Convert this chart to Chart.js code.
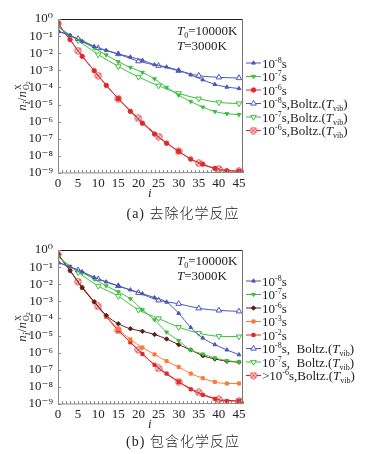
<!DOCTYPE html>
<html><head><meta charset="utf-8">
<script src="https://cdn.jsdelivr.net/npm/chart.js@4.4.0/dist/chart.umd.min.js"></script>
<style>
html,body{margin:0;padding:0;background:#fff;}
body{width:366px;height:454px;position:relative;overflow:hidden;font-family:"Liberation Serif","Tinos","DejaVu Serif",serif;color:#222;}
.cv{position:absolute;left:0;width:366px;height:200px;}
#ca{top:0px} #cb{top:231px}
.t{position:absolute;white-space:nowrap;font-size:13px;line-height:13px;}
.t sup{font-size:8px;vertical-align:5px;line-height:0;}
.t sub{font-size:8px;vertical-align:-3px;line-height:0;}
.cap{position:absolute;white-space:nowrap;font-size:14px;line-height:14px;letter-spacing:1px;transform:translateX(-50%);}
.cap .zh{font-family:"Noto Sans CJK SC",sans-serif;font-weight:300;}
.yt{position:absolute;white-space:nowrap;font-size:13px;line-height:13px;transform:translate(-50%,-50%) rotate(-90deg);}
.st{display:inline-flex;flex-direction:column;vertical-align:middle;font-size:8px;line-height:8px;font-style:normal;margin-left:1px;}
</style>
</head><body>
<canvas id="ca" class="cv" width="366" height="200"></canvas>
<canvas id="cb" class="cv" width="366" height="200"></canvas>

<!-- chart (a) texts -->
<div class="t" style="left:177px;top:24px"><i>T</i><sub>0</sub>=10000K</div>
<div class="t" style="left:177px;top:38.5px"><i>T</i>=3000K</div>
<div class="yt" style="left:24px;top:96px"><i>n</i><sub><i>i</i></sub>/<i>n</i><span class="st"><span>X</span><span>O<sub style="font-size:6px;vertical-align:-1px">2</sub></span></span></div>
<div class="t" style="left:148px;top:186px"><i>i</i></div>
<div class="cap" style="left:183px;top:205px">(a) <span class="zh">去除化学反应</span></div>
<div class="t" style="left:262px;top:56.5px">10<sup>-8</sup>s</div>
<div class="t" style="left:262px;top:70px">10<sup>-7</sup>s</div>
<div class="t" style="left:262px;top:83.5px">10<sup>-6</sup>s</div>
<div class="t" style="left:262px;top:97px">10<sup>-8</sup>s,Boltz.(<i>T</i><sub>vib</sub>)</div>
<div class="t" style="left:262px;top:110.5px">10<sup>-7</sup>s,Boltz.(<i>T</i><sub>vib</sub>)</div>
<div class="t" style="left:262px;top:124px">10<sup>-6</sup>s,Boltz.(<i>T</i><sub>vib</sub>)</div>

<!-- chart (b) texts -->
<div class="t" style="left:177px;top:254px"><i>T</i><sub>0</sub>=10000K</div>
<div class="t" style="left:177px;top:268.5px"><i>T</i>=3000K</div>
<div class="yt" style="left:24px;top:327px"><i>n</i><sub><i>i</i></sub>/<i>n</i><span class="st"><span>X</span><span>O<sub style="font-size:6px;vertical-align:-1px">2</sub></span></span></div>
<div class="t" style="left:148px;top:417px"><i>i</i></div>
<div class="cap" style="left:183px;top:433px">(b) <span class="zh">包含化学反应</span></div>
<div class="t" style="left:262px;top:274.5px">10<sup>-8</sup>s</div>
<div class="t" style="left:262px;top:288px">10<sup>-7</sup>s</div>
<div class="t" style="left:262px;top:301.5px">10<sup>-6</sup>s</div>
<div class="t" style="left:262px;top:315px">10<sup>-3</sup>s</div>
<div class="t" style="left:262px;top:328.5px">10<sup>-2</sup>s</div>
<div class="t" style="left:262px;top:342px">10<sup>-8</sup>s,&nbsp; Boltz.(<i>T</i><sub>vib</sub>)</div>
<div class="t" style="left:262px;top:355.5px">10<sup>-7</sup>s,&nbsp; Boltz.(<i>T</i><sub>vib</sub>)</div>
<div class="t" style="left:262px;top:369px">&gt;10<sup>-6</sup>s,Boltz.(<i>T</i><sub>vib</sub>)</div>

<script>
// ---------- data ----------
const iFilled = [0,3,6,9,12,15,18,21,24,27,30,33,36,39,42,45];
const iOpen   = [0,5,10,15,20,25,30,35,40,45];
const xTickLabels = ['0','5','10','15','20','25','30','35','40','45'];
const yTickExps = [0,-1,-2,-3,-4,-5,-6,-7,-8,-9];

// chart (a): without chemical reactions
const a_e8  = [1.95e-1,1.12e-1,5.0e-2,2.5e-2,1.48e-2,9.1e-3,6.0e-3,3.9e-3,2.14e-3,1.58e-3,1.0e-3,5.4e-4,2.8e-4,1.5e-4,1.05e-4,8.7e-5];
const a_e7  = [3.55e-1,1.07e-1,4.7e-2,2.0e-2,7.9e-3,3.16e-3,1.48e-3,7.6e-4,3.16e-4,1.0e-4,3.55e-5,1.51e-5,7.1e-6,3.9e-6,2.9e-6,2.6e-6];
const a_e6  = [5.5e-1,6.3e-2,6.6e-3,9.5e-4,1.32e-4,2.2e-5,4.0e-6,8.1e-7,1.9e-7,5.5e-8,1.86e-8,6.5e-9,3.3e-9,1.86e-9,1.35e-9,1.26e-9];
const a_b8  = [1.95e-1,6.9e-2,2.0e-2,8.9e-3,3.4e-3,1.86e-3,9.5e-4,4.9e-4,3.9e-4,3.55e-4];
const a_b7  = [3.55e-1,5.6e-2,8.3e-3,1.7e-3,4.1e-4,1.26e-4,4.5e-5,2.2e-5,1.32e-5,1.15e-5];
const a_b6  = [5.5e-1,1.41e-2,4.9e-4,2.2e-5,1.58e-6,1.35e-7,1.86e-8,3.7e-9,1.7e-9,1.26e-9];

// chart (b): with chemical reactions
const b_e8  = [1.9e-1,1.05e-1,5.4e-2,2.5e-2,1.38e-2,7.9e-3,4.7e-3,2.8e-3,1.66e-3,9.1e-4,2.0e-4,2.95e-5,7.2e-6,2.95e-6,1.45e-6,7.6e-7];
const b_e7  = [4.1e-1,1.07e-1,4.7e-2,2.0e-2,7.9e-3,3.55e-3,1.41e-3,3.16e-4,8.3e-5,1.58e-5,5.0e-6,1.45e-6,8.3e-7,4.9e-7,3.4e-7,2.95e-7];
const b_e6  = [5.5e-1,6.3e-2,6.3e-3,9.5e-4,1.51e-4,4.9e-5,2.5e-5,1.78e-5,1.15e-5,6.3e-6,2.95e-6,1.45e-6,6.6e-7,4.3e-7,3.16e-7,2.8e-7];
const b_e3  = [5.5e-1,6.3e-2,6.3e-3,8.9e-4,1.32e-4,2.4e-5,5.9e-6,2.0e-6,7.9e-7,3.2e-7,1.45e-7,6.0e-8,3.2e-8,1.95e-8,1.58e-8,1.58e-8];
const b_e2  = [5.5e-1,6.3e-2,6.3e-3,8.9e-4,1.26e-4,2.0e-5,4.0e-6,8.3e-7,1.95e-7,6.0e-8,2.0e-8,7.2e-9,3.4e-9,2.0e-9,1.51e-9,1.51e-9];
const b_b8  = [1.9e-1,6.6e-2,2.0e-2,7.9e-3,3.16e-3,1.15e-3,7.2e-4,3.9e-4,2.95e-4,2.6e-4];
const b_b7  = [4.1e-1,5.0e-2,7.9e-3,2.0e-3,3.16e-4,1.0e-4,3.1e-5,1.38e-5,9.1e-6,8.7e-6];
const b_b6  = [5.5e-1,1.41e-2,5.0e-4,2.0e-5,1.45e-6,1.2e-7,2.0e-8,4.7e-9,1.86e-9,1.51e-9];

// ---------- styles ----------
const BLUE='#4a58b8', GREEN='#3cbf3c', RED='#e02828', BROWN='#5a1e1e', ORANGE='#ff7a3a';
const FONT='"Liberation Serif", "Tinos", "DejaVu Serif", serif';

function crossCircle(color){
  const c=document.createElement('canvas'); c.width=8; c.height=8;
  const g=c.getContext('2d'); g.strokeStyle=color; g.lineWidth=0.9; g.fillStyle='#fff';
  g.beginPath(); g.arc(4,4,3.2,0,Math.PI*2); g.fill(); g.stroke();
  g.beginPath(); g.moveTo(2,2); g.lineTo(6,6); g.moveTo(6,2); g.lineTo(2,6); g.stroke();
  return c;
}

function mk(label, xs, ys, color, style, open, rot){
  return {
    label, data: xs.map((x,k)=>({x, y: ys[k]})),
    borderColor: color, backgroundColor: color,
    pointBackgroundColor: open ? '#fff' : color, pointBorderColor: color,
    pointStyle: style, rotation: rot||0,
    pointRadius: open ? 3.2 : 2.2, pointBorderWidth: 1, borderWidth: 1,
    cubicInterpolationMode: 'monotone', fill: false
  };
}

function axesPlugin(legendTop){
  return {
    id:'axesDeco',
    afterDraw(chart){
      const {ctx, chartArea:ca, scales:{x,y}} = chart;
      ctx.save();
      ctx.lineWidth=1;
      ctx.strokeStyle='#222'; ctx.beginPath(); ctx.moveTo(ca.left, ca.top+0.5); ctx.lineTo(ca.right, ca.top+0.5); ctx.stroke();
      ctx.strokeStyle='#777'; ctx.beginPath(); ctx.moveTo(ca.right-0.5, ca.top); ctx.lineTo(ca.right-0.5, ca.bottom); ctx.stroke();
      ctx.strokeStyle='#8a8a8a';
      ctx.beginPath(); ctx.moveTo(ca.left+0.5, ca.top); ctx.lineTo(ca.left+0.5, ca.bottom); ctx.lineTo(ca.right, ca.bottom-0.5); ctx.stroke();
      ctx.beginPath();
      x.ticks.forEach(t=>{ const px=Math.round(x.getPixelForValue(t.value))+0.5; ctx.moveTo(px, ca.bottom); ctx.lineTo(px, ca.bottom-3); });
      y.ticks.forEach(t=>{ const py=Math.round(y.getPixelForValue(t.value))+0.5; ctx.moveTo(ca.left, py); ctx.lineTo(ca.left+3, py); });
      ctx.stroke();
      chart.data.datasets.forEach((ds,k)=>{
        const yy = legendTop + k*13.5;
        ctx.strokeStyle = ds.borderColor; ctx.lineWidth=1;
        ctx.beginPath(); ctx.moveTo(246, yy); ctx.lineTo(261, yy); ctx.stroke();
        ctx.fillStyle = ds.pointBackgroundColor; ctx.strokeStyle = ds.pointBorderColor;
        Chart.helpers.drawPoint(ctx, {pointStyle: ds.pointStyle, radius: ds.pointRadius, rotation: ds.rotation, borderWidth: 1}, 253.5, yy);
      });
      ctx.restore();
    }
  };
}

const SUP={'-':'⁻','0':'⁰','1':'¹','2':'²','3':'³','4':'⁴','5':'⁵','6':'⁶','7':'⁷','8':'⁸','9':'⁹'};
function supStr(n){ return String(n).split('').map(c=>SUP[c]).join(''); }

function makeChart(id, datasets, legendTop){
  return new Chart(document.getElementById(id), {
    type:'line',
    data:{datasets},
    options:{
      responsive:false, animation:false, devicePixelRatio:1,
      layout:{padding:{left:0,right:123,top:19,bottom:7}},
      plugins:{legend:{display:false}, tooltip:{enabled:false}},
      scales:{
        x:{type:'linear', min:0, max:46,
           grid:{display:false, drawTicks:false}, border:{display:false},
           afterFit:s=>{s.height=20;},
           ticks:{stepSize:1, autoSkip:false, maxRotation:0, padding:3, color:'#222',
             font:{family:FONT, size:13},
             callback:v=>{ const k=xTickLabels.indexOf(String(v)); return k>=0 ? xTickLabels[k] : ''; }}},
        y:{type:'logarithmic', min:1e-9, max:1,
           grid:{display:false, drawTicks:false}, border:{display:false},
           afterFit:s=>{s.width=58;},
           afterBuildTicks:s=>{ s.ticks = yTickExps.map(e=>({value: Math.pow(10,e)})); },
           ticks:{autoSkip:false, padding:5, color:'#222', font:{family:FONT, size:13},
             callback:v=>{ const e=Math.round(Math.log10(v)); return yTickExps.includes(e) ? '10'+supStr(e) : ''; }}}
      }
    },
    plugins:[axesPlugin(legendTop)]
  });
}

const redX = crossCircle(RED);

makeChart('ca', [
  mk('10-8s', iFilled, a_e8, BLUE, 'triangle', false),
  mk('10-7s', iFilled, a_e7, GREEN, 'triangle', false, 180),
  mk('10-6s', iFilled, a_e6, RED, 'circle', false),
  mk('10-8s,Boltz.(Tvib)', iOpen, a_b8, BLUE, 'triangle', true),
  mk('10-7s,Boltz.(Tvib)', iOpen, a_b7, GREEN, 'triangle', true, 180),
  mk('10-6s,Boltz.(Tvib)', iOpen, a_b6, RED, redX, true)
], 63);

makeChart('cb', [
  mk('10-8s', iFilled, b_e8, BLUE, 'triangle', false),
  mk('10-7s', iFilled, b_e7, GREEN, 'triangle', false, 180),
  mk('10-6s', iFilled, b_e6, BROWN, 'rectRot', false),
  mk('10-3s', iFilled, b_e3, ORANGE, 'rect', false),
  mk('10-2s', iFilled, b_e2, RED, 'rect', false),
  mk('10-8s, Boltz.(Tvib)', iOpen, b_b8, BLUE, 'triangle', true),
  mk('10-7s, Boltz.(Tvib)', iOpen, b_b7, GREEN, 'triangle', true, 180),
  mk('>10-6s,Boltz.(Tvib)', iOpen, b_b6, RED, redX, true)
], 50);
</script>
</body></html>
